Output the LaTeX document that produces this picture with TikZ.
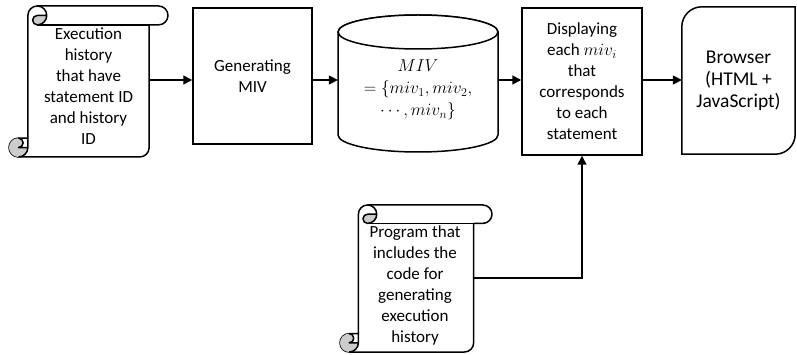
\documentclass[tikz,border=0pt]{standalone}
\usepackage{fontspec}
\setmainfont{Carlito}
\usepackage{tikz}
\usetikzlibrary{arrows.meta,calc,positioning}

% vertical scroll: left, top, right, bottom
\newcommand{\vscroll}[4]{%
  \pgfmathsetmacro{\scH}{0.125*min(#3-#1,#4-#2)}%
  \pgfmathsetmacro{\scHh}{\scH/2}%
  \pgfmathsetmacro{\scHq}{\scH/4}%
  \draw[scrollline,fill=white] (#1+\scH,#4-\scH) -- (#1+\scH,#2+\scHh)
    arc[start angle=180,delta angle=90,radius=\scHh] -- (#3-\scHh,#2)
    arc[start angle=270,delta angle=180,radius=\scHh] -- (#3-\scH,#2+\scH)
    -- (#3-\scH,#4-\scHh) arc[start angle=0,delta angle=90,radius=\scHh]
    -- (#1+\scHh,#4) arc[start angle=90,delta angle=180,radius=\scHh] -- cycle;
  \fill[curl] (#1+2*\scH,#2+\scHh) arc[start angle=0,delta angle=90,radius=\scHh]
    arc[start angle=90,delta angle=180,radius=\scHq] -- cycle;
  \fill[curl] (#1+\scH,#4-\scHh) arc[start angle=0,delta angle=270,radius=\scHh]
    arc[start angle=270,delta angle=180,radius=\scHq] -- cycle;
  \draw[scrollline] (#1+1.5*\scH,#2) arc[start angle=270,delta angle=180,radius=\scHh]
    arc[start angle=90,delta angle=180,radius=\scHq] -- (#1+2*\scH,#2+\scHh);
  \draw[scrollline] (#3-\scH,#2+\scH) -- (#1+1.5*\scH,#2+\scH);
  \draw[scrollline] (#1+\scHh,#4-\scH) arc[start angle=270,delta angle=180,radius=\scHq]
    -- (#1+\scH,#4-\scHh);
  \draw[scrollline] (#1+\scHh,#4) arc[start angle=90,delta angle=-90,radius=\scHh]
    -- (#1+\scH,#4-\scH);
}

\begin{document}
\begin{tikzpicture}[x=1pt,y=-1pt,
    scrollline/.style={line width=1.5pt,line join=round,draw=black},
    curl/.style={fill=black!20},
    txt/.style={align=center,inner sep=0pt,font=\fontsize{17}{21}\selectfont},
    box/.style={txt,draw=black,line width=1.5pt},
    outline/.style={draw=black,fill=white,line width=1.5pt},
    arr/.style={line width=1.5pt,-{Triangle[length=9pt,width=9pt]}}]
  \useasboundingbox (0,0) rectangle (797,355);

  % scrolls
  \vscroll{9}{6}{168}{157}
  \node[txt,minimum width=121] (exec) at (88.5,86.5)
    {Execution\\history\\that have\\statement ID\\and history\\ID};
  \vscroll{340}{205}{492}{352}
  \node[txt,minimum width=117] (prog) at (415,285)
    {Program that\\includes the\\code for\\generating\\execution\\history};

  \node[box,minimum width=119,minimum height=136] (gen) at (252.5,76) {Generating\\MIV};

  % cylinder
  \path[outline] (338,32) -- (338,135)
    arc[start angle=180,end angle=0,x radius=80,y radius=17] -- (498,32)
    arc[start angle=0,end angle=-180,x radius=80,y radius=17] -- cycle;
  \draw[outline] (418,32) ellipse [x radius=80,y radius=17];
  \node[txt,minimum width=160,font=\fontsize{18.5}{22}\selectfont] (miv) at (418,90)
    {$MIV$\\$=\{miv_1,miv_2,$\\$\cdots,miv_n\}$};

  \node[box,minimum width=120,minimum height=147] (disp) at (582,81.5)
    {Displaying\\each {\fontsize{18.5}{21}\selectfont$miv_i$}\\that\\corresponds\\to each\\statement};

  \node[txt,minimum width=113,minimum height=147,font=\fontsize{19.5}{22}\selectfont]
    (br) at (738.5,80.5) {};
  \path[outline] ($(br.north west)+(0,20)$)
    arc[start angle=180,delta angle=90,radius=20] -- (br.north east)
    -- ($(br.south east)+(0,-20)$) arc[start angle=0,delta angle=90,radius=20]
    -- (br.south west) -- cycle;
  \node[txt,font=\fontsize{19.5}{22}\selectfont] at (br) {Browser\\(HTML +\\JavaScript)};

  % connectors
  \coordinate (axis) at (0,80);
  \coordinate (link) at (0,278);
  \draw[arr] (exec.east |- axis) -- (gen.west |- axis);
  \draw[arr] (gen.east |- axis) -- (miv.west |- axis);
  \draw[arr] (miv.east |- axis) -- (disp.west |- axis);
  \draw[arr] (disp.east |- axis) -- (br.west |- axis);
  \draw[arr] (prog.east |- link) -| (disp.south);
\end{tikzpicture}
\end{document}
